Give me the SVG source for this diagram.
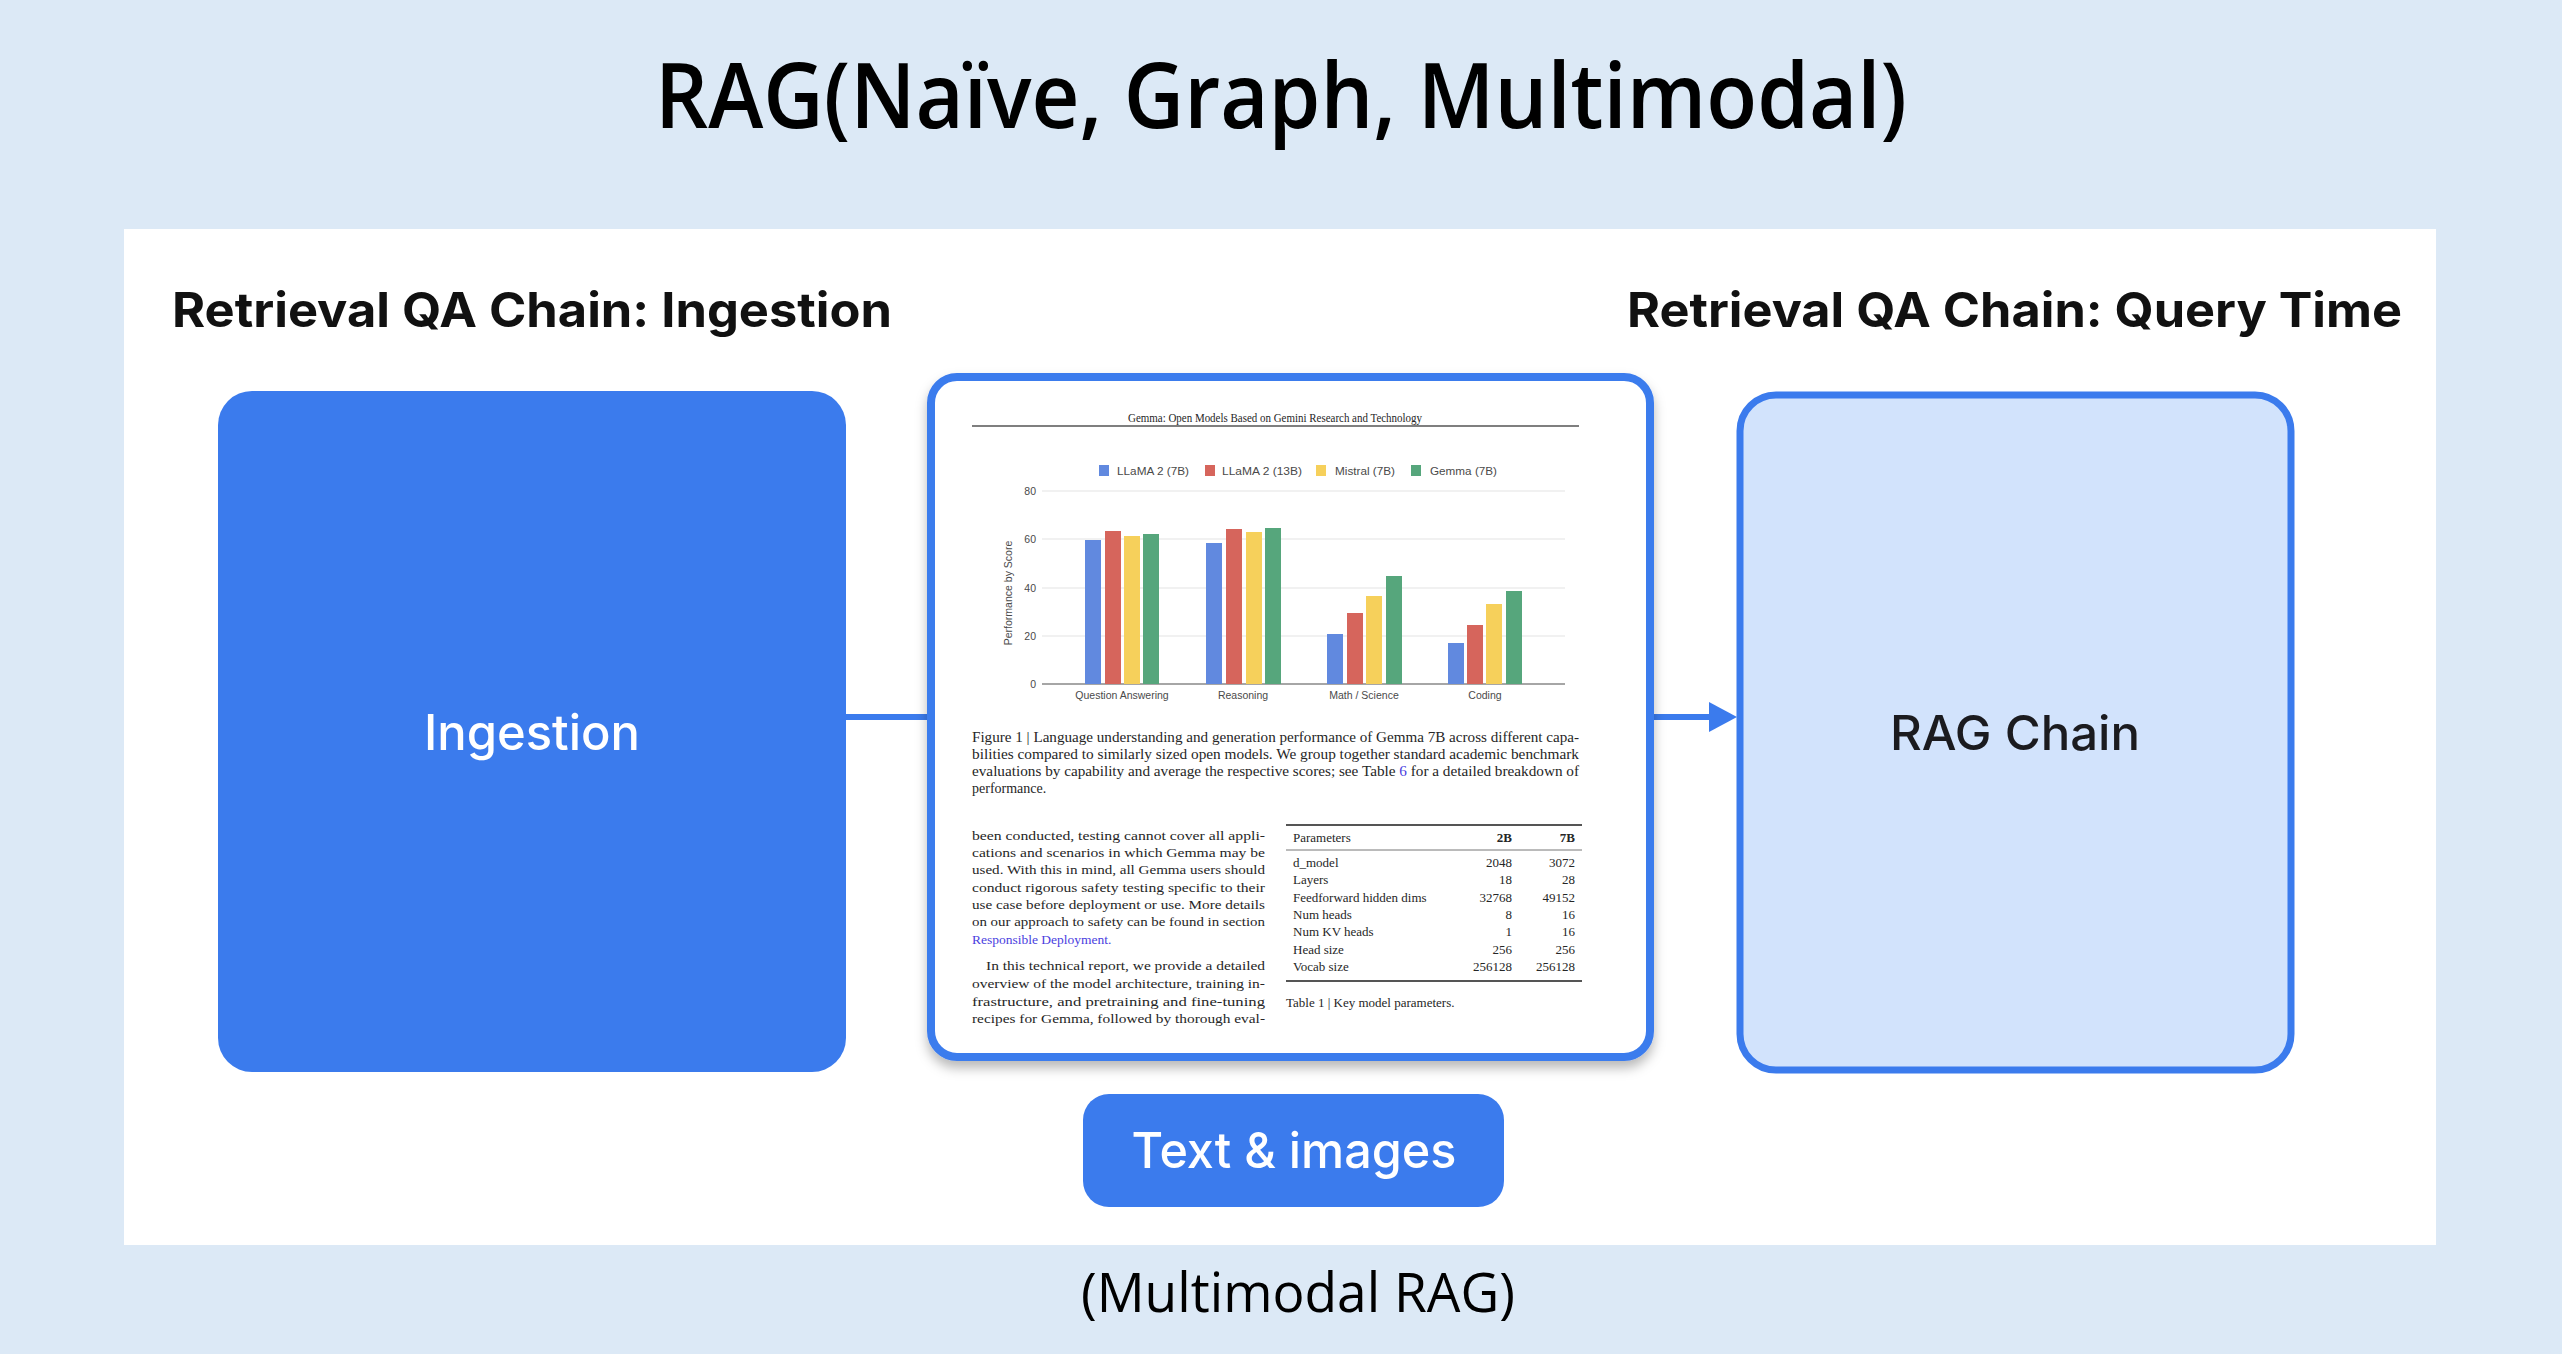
<svg xmlns="http://www.w3.org/2000/svg" width="2562" height="1354" viewBox="0 0 2562 1354">
<defs>
<style>
.title{font-family:"Open Sans","Noto Sans",sans-serif;font-weight:600;fill:#000}
.sub{font-family:"Open Sans","Noto Sans",sans-serif;font-weight:400;fill:#000}
.hdr{font-family:Inter,"Open Sans",sans-serif;font-weight:700;fill:#111}
.nodeW{font-family:Inter,"Open Sans",sans-serif;font-weight:500;fill:#fff}
.nodeD{font-family:Inter,"Open Sans",sans-serif;font-weight:500;fill:#1b1b1f}
.blue{fill:#3b7bed}
.conn{stroke:#3b7bed;stroke-width:6;fill:none}
.serif{font-family:"Liberation Serif","Times New Roman",serif;fill:#262626}
.sans{font-family:"Liberation Sans",Arial,sans-serif;fill:#4a4a4a}
.grid{stroke:#e3e3e3;stroke-width:1.2}
.b1{fill:#6189df}.b2{fill:#d6655c}.b3{fill:#f6d05b}.b4{fill:#56a67c}
.link{fill:#4a3ee0}
</style>
<marker id="arrow" viewBox="0 0 28 30" markerWidth="28" markerHeight="30" refX="0" refY="15" markerUnits="userSpaceOnUse" orient="auto">
<path d="M0,0 L28,15 L0,30 z" fill="#3b7bed"/>
</marker>
<filter id="shadow" x="-10%" y="-10%" width="120%" height="125%">
<feDropShadow dx="0" dy="7" stdDeviation="6" flood-color="#000" flood-opacity="0.28"/>
</filter>
</defs>

<rect x="0" y="0" width="2562" height="1354" fill="#dce9f6"/>
<text class="title" x="1281" y="128" font-size="90" text-anchor="middle" textLength="1252" lengthAdjust="spacingAndGlyphs">RAG(Naïve, Graph, Multimodal)</text>

<rect x="124" y="229" width="2312" height="1016" fill="#ffffff"/>

<text class="hdr" x="172" y="327" font-size="48" textLength="720" lengthAdjust="spacingAndGlyphs">Retrieval QA Chain: Ingestion</text>
<text class="hdr" x="1627" y="327" font-size="48" textLength="775" lengthAdjust="spacingAndGlyphs">Retrieval QA Chain: Query Time</text>

<g id="connectors">
<line class="conn" x1="846" y1="717" x2="931" y2="717"/>
<line class="conn" x1="1652" y1="717" x2="1709" y2="717" marker-end="url(#arrow)"/>
</g>

<g id="node-ingestion">
<rect x="218" y="391" width="628" height="681" rx="34" class="blue"/>
<text class="nodeW" x="532" y="750" font-size="49" font-weight="600" text-anchor="middle" textLength="216" lengthAdjust="spacingAndGlyphs">Ingestion</text>
</g>

<g id="node-document">
<rect x="931" y="377" width="719" height="680" rx="26" fill="#ffffff" stroke="#3b7bed" stroke-width="8" filter="url(#shadow)"/>
<text class="serif" x="1275" y="422" font-size="11.5" text-anchor="middle" textLength="294" lengthAdjust="spacingAndGlyphs">Gemma: Open Models Based on Gemini Research and Technology</text>
<line x1="972" y1="426" x2="1579" y2="426" stroke="#555" stroke-width="1.5"/>
<!-- legend -->
<rect x="1099" y="465" width="10" height="11" class="b1"/>
<text class="sans" x="1117" y="475" font-size="10.5" textLength="72" lengthAdjust="spacingAndGlyphs">LLaMA 2 (7B)</text>
<rect x="1205" y="465" width="10" height="11" class="b2"/>
<text class="sans" x="1222" y="475" font-size="10.5" textLength="80" lengthAdjust="spacingAndGlyphs">LLaMA 2 (13B)</text>
<rect x="1316" y="465" width="10" height="11" class="b3"/>
<text class="sans" x="1335" y="475" font-size="10.5" textLength="60" lengthAdjust="spacingAndGlyphs">Mistral (7B)</text>
<rect x="1411" y="465" width="10" height="11" class="b4"/>
<text class="sans" x="1430" y="475" font-size="10.5" textLength="67" lengthAdjust="spacingAndGlyphs">Gemma (7B)</text>
<!-- grid -->
<line class="grid" x1="1042" y1="491" x2="1565" y2="491"/>
<line class="grid" x1="1042" y1="539" x2="1565" y2="539"/>
<line class="grid" x1="1042" y1="588" x2="1565" y2="588"/>
<line class="grid" x1="1042" y1="636" x2="1565" y2="636"/>
<line x1="1042" y1="684" x2="1565" y2="684" stroke="#888" stroke-width="1.5"/>
<text class="sans" x="1036" y="495" font-size="10.5" text-anchor="end">80</text>
<text class="sans" x="1036" y="543" font-size="10.5" text-anchor="end">60</text>
<text class="sans" x="1036" y="592" font-size="10.5" text-anchor="end">40</text>
<text class="sans" x="1036" y="640" font-size="10.5" text-anchor="end">20</text>
<text class="sans" x="1036" y="688" font-size="10.5" text-anchor="end">0</text>
<text class="sans" x="0" y="0" font-size="10.5" text-anchor="middle" transform="translate(1012,593) rotate(-90)">Performance by Score</text>
<!-- bars -->
<rect x="1085" y="540" width="16" height="144" class="b1"/>
<rect x="1105" y="531" width="16" height="153" class="b2"/>
<rect x="1124" y="536" width="16" height="148" class="b3"/>
<rect x="1143" y="534" width="16" height="150" class="b4"/>
<rect x="1206" y="543" width="16" height="141" class="b1"/>
<rect x="1226" y="529" width="16" height="155" class="b2"/>
<rect x="1246" y="532" width="16" height="152" class="b3"/>
<rect x="1265" y="528" width="16" height="156" class="b4"/>
<rect x="1327" y="634" width="16" height="50" class="b1"/>
<rect x="1347" y="613" width="16" height="71" class="b2"/>
<rect x="1366" y="596" width="16" height="88" class="b3"/>
<rect x="1386" y="576" width="16" height="108" class="b4"/>
<rect x="1448" y="643" width="16" height="41" class="b1"/>
<rect x="1467" y="625" width="16" height="59" class="b2"/>
<rect x="1486" y="604" width="16" height="80" class="b3"/>
<rect x="1506" y="591" width="16" height="93" class="b4"/>
<text class="sans" x="1122" y="699" font-size="10.5" text-anchor="middle">Question Answering</text>
<text class="sans" x="1243" y="699" font-size="10.5" text-anchor="middle">Reasoning</text>
<text class="sans" x="1364" y="699" font-size="10.5" text-anchor="middle">Math / Science</text>
<text class="sans" x="1485" y="699" font-size="10.5" text-anchor="middle">Coding</text>
<!-- caption -->
<text class="serif" x="972" y="742" font-size="14" textLength="607" lengthAdjust="spacingAndGlyphs">Figure 1 | Language understanding and generation performance of Gemma 7B across different capa-</text>
<text class="serif" x="972" y="759" font-size="14" textLength="607" lengthAdjust="spacingAndGlyphs">bilities compared to similarly sized open models. We group together standard academic benchmark</text>
<text class="serif" x="972" y="776" font-size="14" textLength="607" lengthAdjust="spacingAndGlyphs">evaluations by capability and average the respective scores; see Table <tspan class="link">6</tspan> for a detailed breakdown of</text>
<text class="serif" x="972" y="793" font-size="14">performance.</text>
<!-- left column -->
<g font-size="13.5">
<text class="serif" x="972" y="840" textLength="293" lengthAdjust="spacingAndGlyphs">been conducted, testing cannot cover all appli-</text>
<text class="serif" x="972" y="857" textLength="293" lengthAdjust="spacingAndGlyphs">cations and scenarios in which Gemma may be</text>
<text class="serif" x="972" y="874" textLength="293" lengthAdjust="spacingAndGlyphs">used. With this in mind, all Gemma users should</text>
<text class="serif" x="972" y="892" textLength="293" lengthAdjust="spacingAndGlyphs">conduct rigorous safety testing specific to their</text>
<text class="serif" x="972" y="909" textLength="293" lengthAdjust="spacingAndGlyphs">use case before deployment or use. More details</text>
<text class="serif" x="972" y="926" textLength="293" lengthAdjust="spacingAndGlyphs">on our approach to safety can be found in section</text>
<text class="serif link" x="972" y="944">Responsible Deployment.</text>
<text class="serif" x="986" y="970" textLength="279" lengthAdjust="spacingAndGlyphs">In this technical report, we provide a detailed</text>
<text class="serif" x="972" y="988" textLength="293" lengthAdjust="spacingAndGlyphs">overview of the model architecture, training in-</text>
<text class="serif" x="972" y="1006" textLength="293" lengthAdjust="spacingAndGlyphs">frastructure, and pretraining and fine-tuning</text>
<text class="serif" x="972" y="1023" textLength="293" lengthAdjust="spacingAndGlyphs">recipes for Gemma, followed by thorough eval-</text>
</g>
<!-- table -->
<line x1="1286" y1="825" x2="1582" y2="825" stroke="#555" stroke-width="2"/>
<line x1="1286" y1="850" x2="1582" y2="850" stroke="#777" stroke-width="1"/>
<line x1="1286" y1="981" x2="1582" y2="981" stroke="#555" stroke-width="2"/>
<g font-size="13">
<text class="serif" x="1293" y="842">Parameters</text>
<text class="serif" x="1512" y="842" text-anchor="end" font-weight="bold">2B</text>
<text class="serif" x="1575" y="842" text-anchor="end" font-weight="bold">7B</text>
<text class="serif" x="1293" y="867">d_model</text>
<text class="serif" x="1512" y="867" text-anchor="end">2048</text>
<text class="serif" x="1575" y="867" text-anchor="end">3072</text>
<text class="serif" x="1293" y="884">Layers</text>
<text class="serif" x="1512" y="884" text-anchor="end">18</text>
<text class="serif" x="1575" y="884" text-anchor="end">28</text>
<text class="serif" x="1293" y="902">Feedforward hidden dims</text>
<text class="serif" x="1512" y="902" text-anchor="end">32768</text>
<text class="serif" x="1575" y="902" text-anchor="end">49152</text>
<text class="serif" x="1293" y="919">Num heads</text>
<text class="serif" x="1512" y="919" text-anchor="end">8</text>
<text class="serif" x="1575" y="919" text-anchor="end">16</text>
<text class="serif" x="1293" y="936">Num KV heads</text>
<text class="serif" x="1512" y="936" text-anchor="end">1</text>
<text class="serif" x="1575" y="936" text-anchor="end">16</text>
<text class="serif" x="1293" y="954">Head size</text>
<text class="serif" x="1512" y="954" text-anchor="end">256</text>
<text class="serif" x="1575" y="954" text-anchor="end">256</text>
<text class="serif" x="1293" y="971">Vocab size</text>
<text class="serif" x="1512" y="971" text-anchor="end">256128</text>
<text class="serif" x="1575" y="971" text-anchor="end">256128</text>
<text class="serif" x="1286" y="1007">Table 1 | Key model parameters.</text>
</g>
</g>

<g id="node-rag-chain">
<rect x="1740" y="395" width="551" height="675" rx="36" fill="#d2e3fc" stroke="#3b7bed" stroke-width="7"/>
<text class="nodeD" x="2015" y="750" font-size="48" text-anchor="middle" textLength="250" lengthAdjust="spacingAndGlyphs">RAG Chain</text>
</g>

<g id="node-text-images">
<rect x="1083" y="1094" width="421" height="113" rx="26" class="blue"/>
<text class="nodeW" x="1294" y="1168" font-size="50" font-weight="700" text-anchor="middle" textLength="325" lengthAdjust="spacingAndGlyphs">Text &amp; images</text>
</g>

<text class="sub" x="1298" y="1312" font-size="55" text-anchor="middle" textLength="434" lengthAdjust="spacingAndGlyphs">(Multimodal RAG)</text>
</svg>
